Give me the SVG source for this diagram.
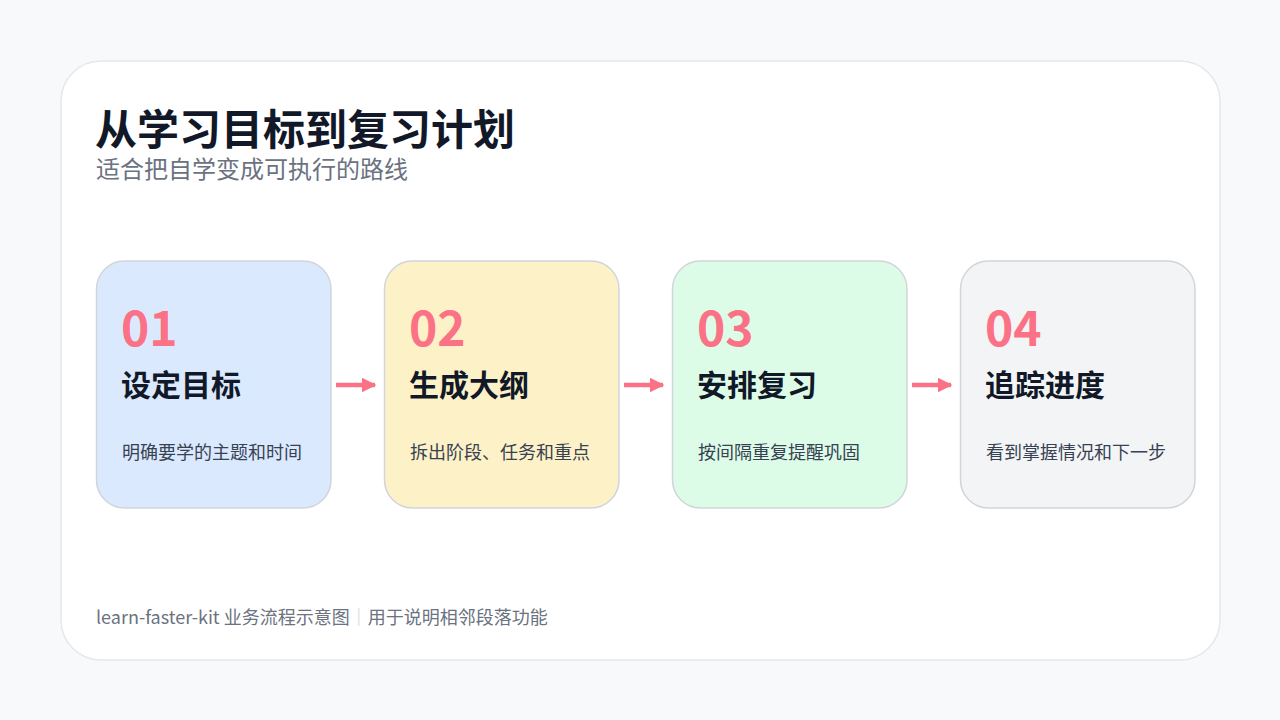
<svg xmlns="http://www.w3.org/2000/svg" width="1280" height="720" viewBox="0 0 1280 720">
<style>
text{font-family:"Noto Sans CJK SC","Noto Sans",sans-serif}
.card{stroke:#d1d5db;stroke-width:1.5}
.num{font-size:48px;font-weight:700;fill:#fb7185}
.ttl{font-size:30px;font-weight:700;fill:#111827}
.desc{font-size:18px;fill:#374151}
.conn{stroke:#fb7185;stroke-width:4.5;fill:none}
</style>
<defs>
<marker id="ah" viewBox="0 0 10 10" refX="9" refY="5" markerWidth="3.3" markerHeight="3.3" orient="auto" markerUnits="strokeWidth">
<path d="M0,0 L10,5 L0,10 z" fill="#fb7185"/>
</marker>
</defs>
<rect width="1280" height="720" fill="#f8f9fb"/>
<rect x="61" y="61" width="1159" height="599" rx="40" fill="#ffffff" stroke="#e5e7eb" stroke-width="1.5"/>
<text x="95" y="145" font-size="42" font-weight="700" fill="#111827">从学习目标到复习计划</text>
<text x="96" y="178" font-size="24" fill="#6b7280">适合把自学变成可执行的路线</text>
<g id="node1">
<rect class="card" x="96.5" y="261" width="234.5" height="247" rx="28" fill="#dbe9fe"/>
<text class="num" x="121" y="346">01</text>
<text class="ttl" x="121" y="396">设定目标</text>
<text class="desc" x="122" y="459">明确要学的主题和时间</text>
</g>
<g id="node2">
<rect class="card" x="384.5" y="261" width="234.5" height="247" rx="28" fill="#fdf2c7"/>
<text class="num" x="409" y="346">02</text>
<text class="ttl" x="409" y="396">生成大纲</text>
<text class="desc" x="410" y="459">拆出阶段、任务和重点</text>
</g>
<g id="node3">
<rect class="card" x="672.5" y="261" width="234.5" height="247" rx="28" fill="#dcfce7"/>
<text class="num" x="697" y="346">03</text>
<text class="ttl" x="697" y="396">安排复习</text>
<text class="desc" x="698" y="459">按间隔重复提醒巩固</text>
</g>
<g id="node4">
<rect class="card" x="960.5" y="261" width="234.5" height="247" rx="28" fill="#f3f4f6"/>
<text class="num" x="985" y="346">04</text>
<text class="ttl" x="985" y="396">追踪进度</text>
<text class="desc" x="986" y="459">看到掌握情况和下一步</text>
</g>
<g id="connectors">
<line class="conn" x1="336" y1="385" x2="375" y2="385" marker-end="url(#ah)"/>
<line class="conn" x1="624" y1="385" x2="663" y2="385" marker-end="url(#ah)"/>
<line class="conn" x1="912" y1="385" x2="951" y2="385" marker-end="url(#ah)"/>
</g>
<text x="96" y="624" font-size="18" fill="#6b7280">learn-faster-kit 业务流程示意图<tspan fill="#cbd5e1">｜</tspan>用于说明相邻段落功能</text>
</svg>
